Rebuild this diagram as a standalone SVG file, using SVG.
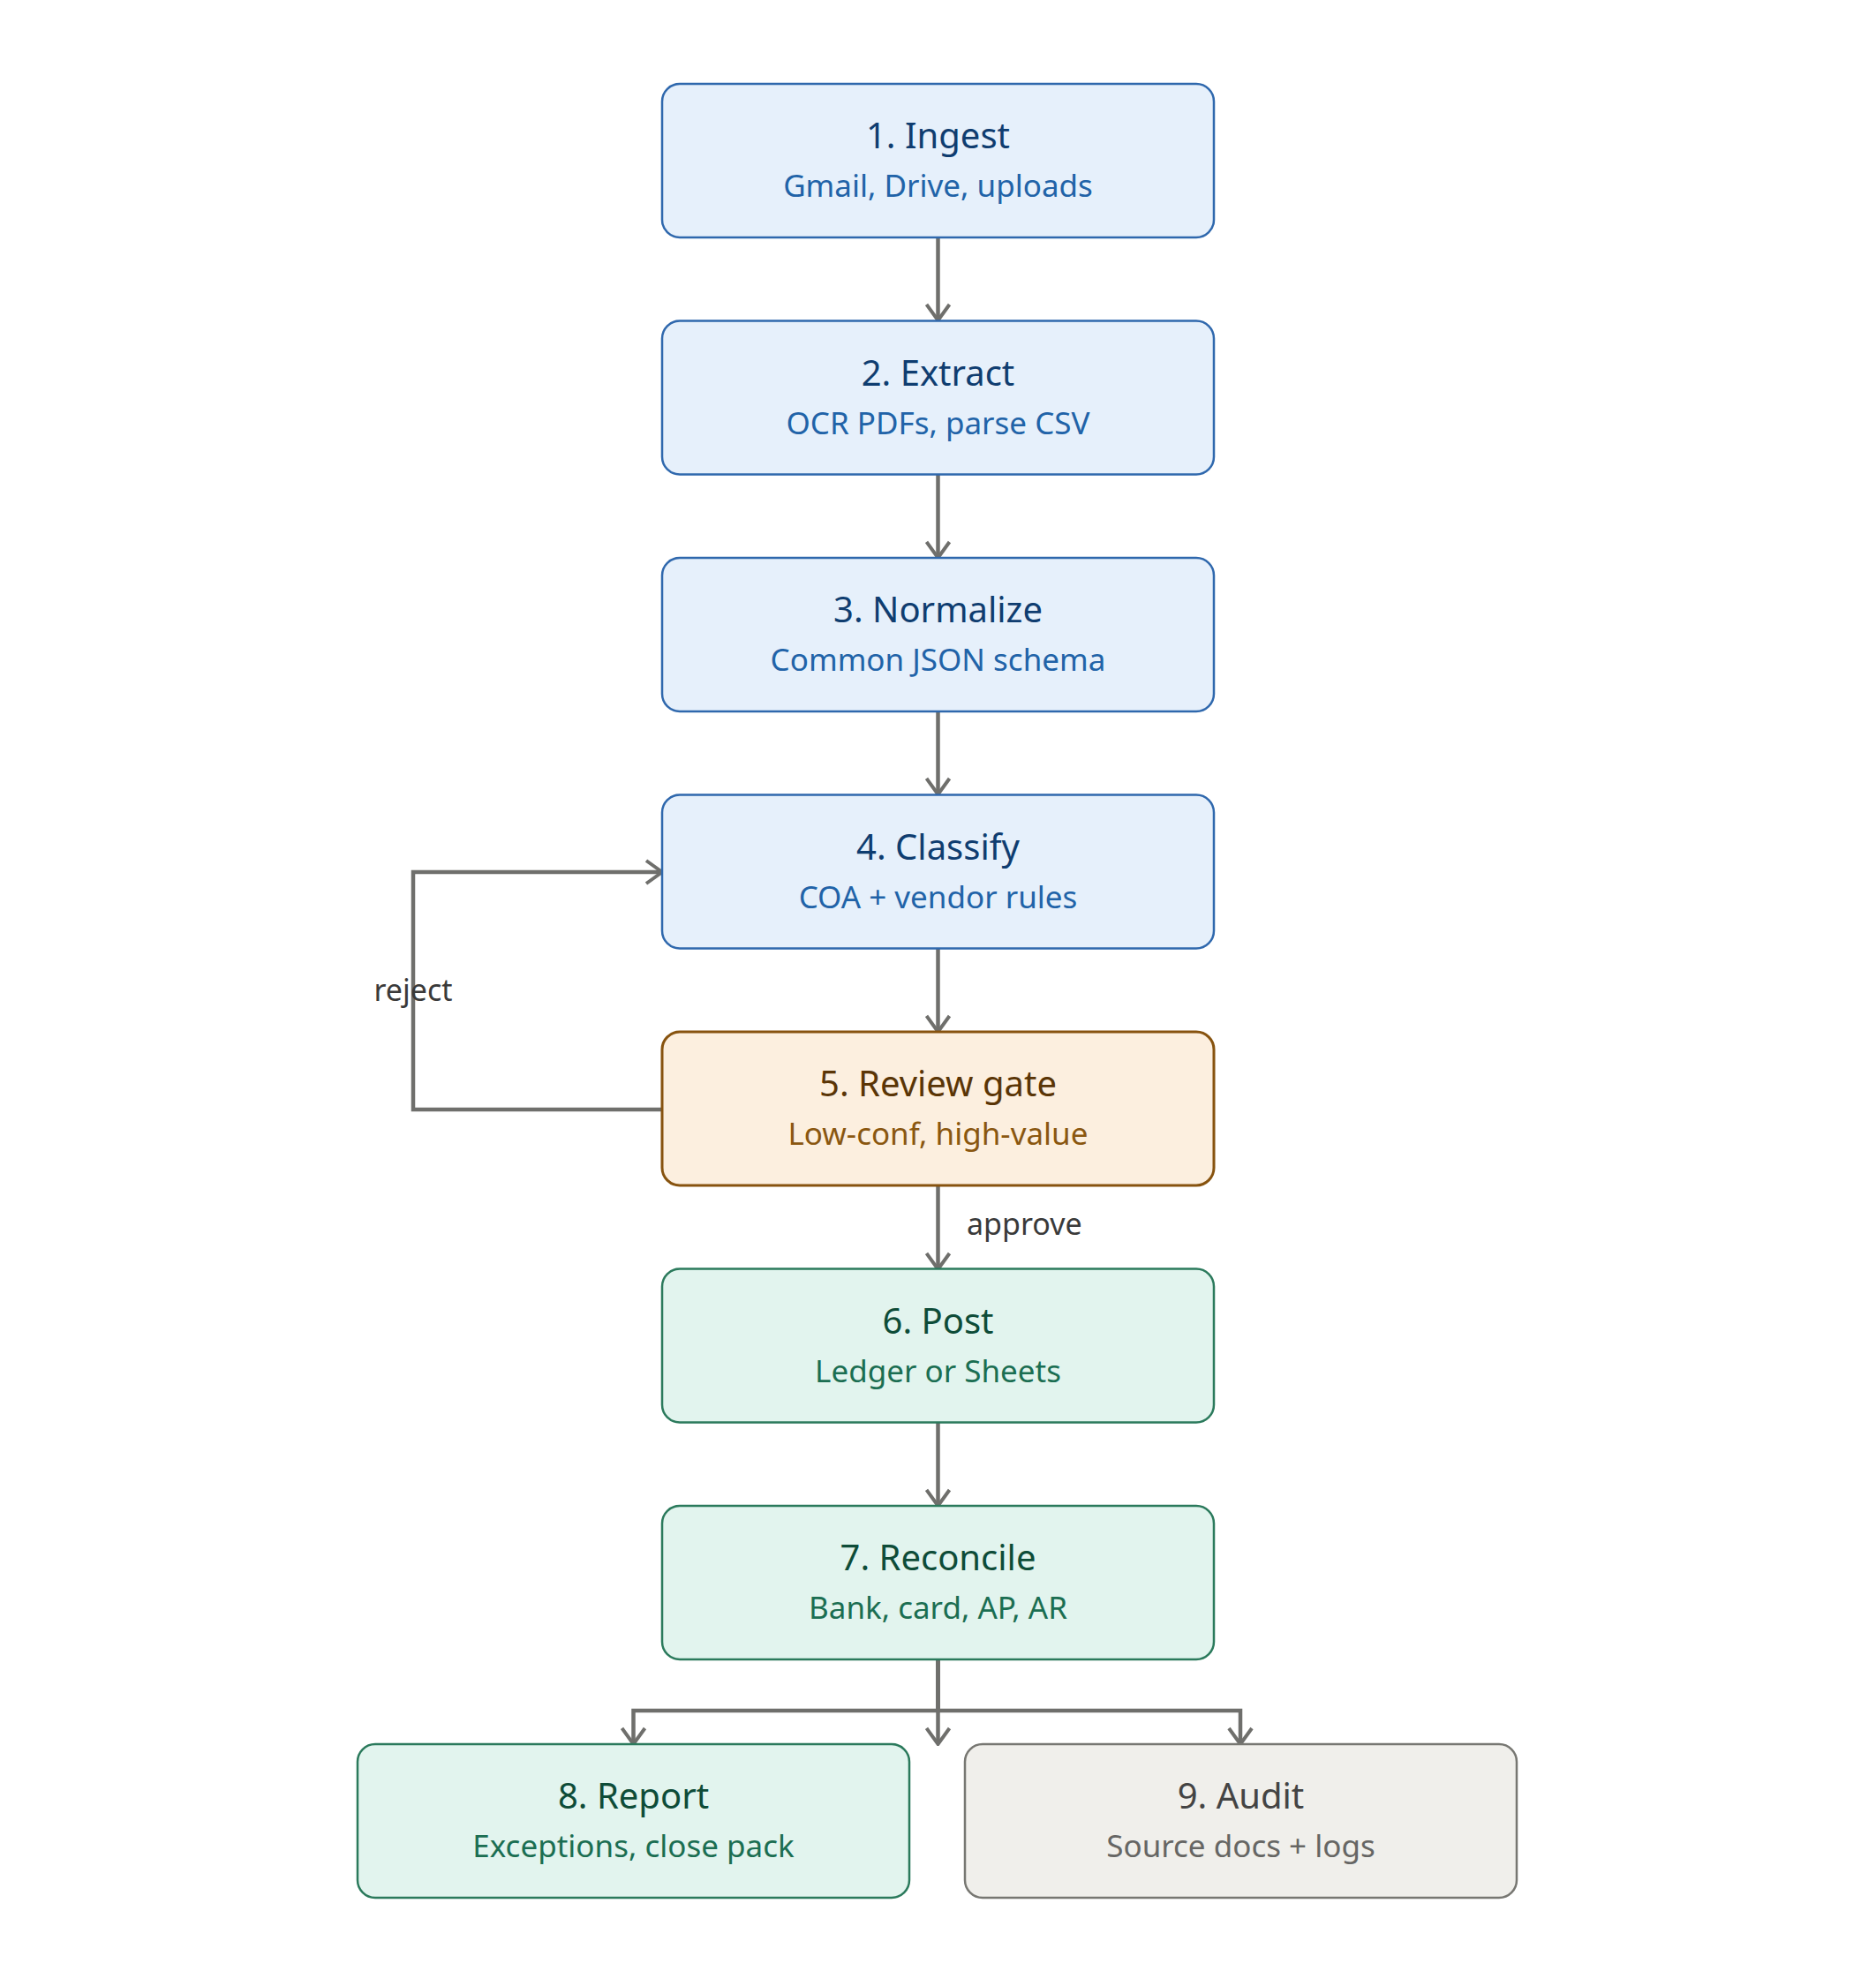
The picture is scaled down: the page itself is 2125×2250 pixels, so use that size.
<svg xmlns="http://www.w3.org/2000/svg" width="2125" height="2250" viewBox="0 0 2125 2250">
<defs>
<style>
.box{stroke-width:2.5}
.blue rect{fill:#e6f0fb;stroke:#2f68ad}
.blue .t{fill:#0f3d70}
.blue .s{fill:#2163a8}
.orange rect{fill:#fcefdf;stroke:#87530f;stroke-width:3}
.orange .t{fill:#5a3506}
.orange .s{fill:#8a5710}
.green rect{fill:#e2f4ee;stroke:#2b7a5c}
.green .t{fill:#0e4c38}
.green .s{fill:#1b6e52}
.gray rect{fill:#f0efeb;stroke:#777772}
.gray .t{fill:#444444}
.gray .s{fill:#666664}
text{font-family:"Noto Sans","Open Sans",sans-serif;text-anchor:middle}
.t{font-size:40px}
.s{font-size:35px}
.lbl{font-size:34px;fill:#3a3a3a}
.edge{fill:none;stroke:#6f6f6c;stroke-width:4.5}
</style>
<marker id="arr" viewBox="0 0 22 30" refX="20" refY="15" markerWidth="22" markerHeight="30" markerUnits="userSpaceOnUse" orient="auto">
<path d="M2,2 L20,15 L2,28" fill="none" stroke="#6f6f6c" stroke-width="4"/>
</marker>
</defs>
<rect width="2125" height="2250" fill="#ffffff"/>
<g id="connectors">
<path class="edge" d="M1062.5,269 V363" marker-end="url(#arr)"/>
<path class="edge" d="M1062.5,538 V632" marker-end="url(#arr)"/>
<path class="edge" d="M1062.5,806 V900" marker-end="url(#arr)"/>
<path class="edge" d="M1062.5,1075 V1169" marker-end="url(#arr)"/>
<path class="edge" d="M1062.5,1344 V1438" marker-end="url(#arr)"/>
<path class="edge" d="M1062.5,1612 V1706" marker-end="url(#arr)"/>
<path class="edge" d="M750,1257 H468 V988 H750" marker-end="url(#arr)"/>
<path class="edge" d="M1062.5,1881 V1938 H717.5 V1976" marker-end="url(#arr)"/>
<path class="edge" d="M1062.5,1881 V1938 H1405 V1976" marker-end="url(#arr)"/>
<path class="edge" d="M1062.5,1881 V1976" marker-end="url(#arr)"/>
<text class="lbl" x="468" y="1134">reject</text>
<text class="lbl" x="1095" y="1399" style="text-anchor:start">approve</text>
</g>
<g id="n1" class="box blue"><rect x="750" y="95" width="625" height="174" rx="20"/><text class="t" x="1062.5" y="168">1. Ingest</text><text class="s" x="1062.5" y="223">Gmail, Drive, uploads</text></g>
<g id="n2" class="box blue"><rect x="750" y="363.5" width="625" height="174" rx="20"/><text class="t" x="1062.5" y="436.5">2. Extract</text><text class="s" x="1062.5" y="491.5">OCR PDFs, parse CSV</text></g>
<g id="n3" class="box blue"><rect x="750" y="632" width="625" height="174" rx="20"/><text class="t" x="1062.5" y="705">3. Normalize</text><text class="s" x="1062.5" y="760">Common JSON schema</text></g>
<g id="n4" class="box blue"><rect x="750" y="900.5" width="625" height="174" rx="20"/><text class="t" x="1062.5" y="973.5">4. Classify</text><text class="s" x="1062.5" y="1028.5">COA + vendor rules</text></g>
<g id="n5" class="box orange"><rect x="750" y="1169" width="625" height="174" rx="20"/><text class="t" x="1062.5" y="1242">5. Review gate</text><text class="s" x="1062.5" y="1297">Low-conf, high-value</text></g>
<g id="n6" class="box green"><rect x="750" y="1437.5" width="625" height="174" rx="20"/><text class="t" x="1062.5" y="1510.5">6. Post</text><text class="s" x="1062.5" y="1565.5">Ledger or Sheets</text></g>
<g id="n7" class="box green"><rect x="750" y="1706" width="625" height="174" rx="20"/><text class="t" x="1062.5" y="1779">7. Reconcile</text><text class="s" x="1062.5" y="1834">Bank, card, AP, AR</text></g>
<g id="n8" class="box green"><rect x="405" y="1976" width="625" height="174" rx="20"/><text class="t" x="717.5" y="2049">8. Report</text><text class="s" x="717.5" y="2104">Exceptions, close pack</text></g>
<g id="n9" class="box gray"><rect x="1093" y="1976" width="625" height="174" rx="20"/><text class="t" x="1405.5" y="2049">9. Audit</text><text class="s" x="1405.5" y="2104">Source docs + logs</text></g>
</svg>
